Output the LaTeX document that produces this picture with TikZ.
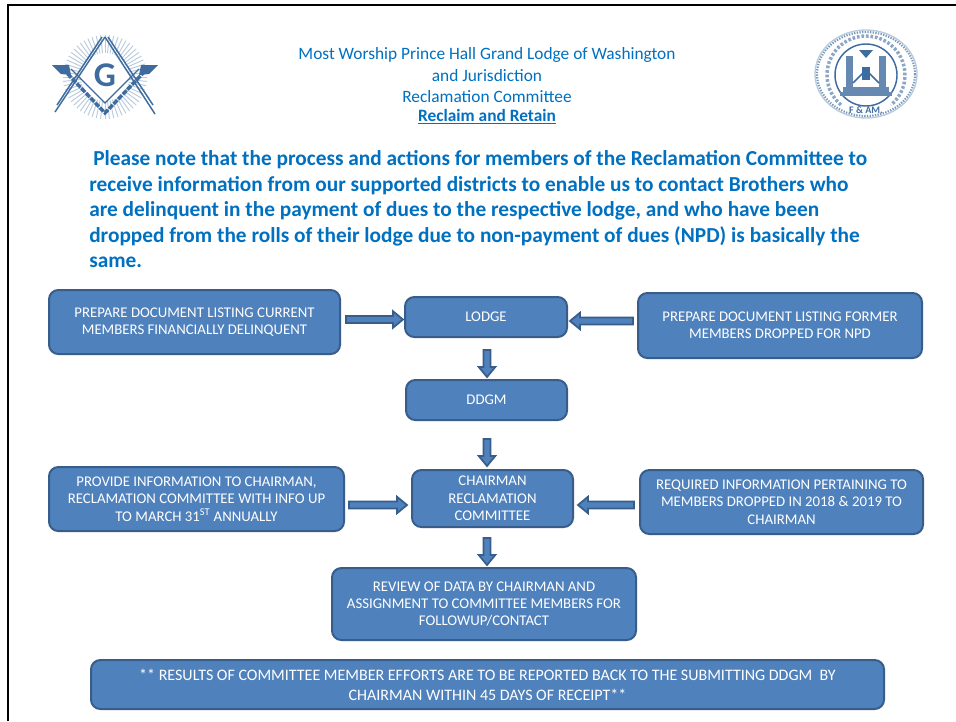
\documentclass[tikz,border=0pt]{standalone}
\usepackage{fontspec}
\setmainfont{Carlito}
\usetikzlibrary{calc}
\definecolor{boxfill}{HTML}{4F81BD}
\definecolor{boxedge}{HTML}{385D8A}
\definecolor{headblue}{HTML}{0070C0}
\definecolor{logoblue}{HTML}{3F6C9E}
\definecolor{logolight}{HTML}{B9CBDD}
\tikzset{
  x=0.75pt,y=-0.75pt,
  flowbox/.style={draw=boxedge,fill=boxfill,line width=1.5pt,rounded corners=7pt,text=white,
    align=center,font=\fontsize{11.1pt}{13pt}\selectfont,inner sep=0pt},
  blockarrow/.style={draw=boxedge,fill=boxfill,line width=1.3pt,line join=miter},
  headline/.style={text=headblue,font=\fontsize{13pt}{15.6pt}\selectfont,align=center,inner sep=0pt},
  notice/.style={text=headblue,font=\fontsize{16pt}{19.15pt}\selectfont\bfseries,align=left,inner sep=0pt,anchor=north west},
  logoline/.style={draw=logoblue,line width=1.1pt},
}
\newcommand{\flowbox}[6]{% name, x0, y0, x1, y1, text
  \node[flowbox,minimum width={(#4-#2)*0.75pt},minimum height={(#5-#3)*0.75pt}] (#1) at ({(#2+#4)/2},{(#3+#5)/2}) {#6};}
\newcommand{\blockarrowdraw}[2]{%
  \coordinate (ba) at #1; \coordinate (bb) at #2;
  \coordinate (bc) at ($(bb)!7.5pt!(ba)$);
  \draw[blockarrow] ($(ba)!2.6pt!90:(bb)$) -- ($(bc)!2.6pt!-90:(ba)$) -- ($(bc)!6.2pt!-90:(ba)$) -- (bb)
    -- ($(bc)!6.2pt!90:(ba)$) -- ($(bc)!2.6pt!90:(ba)$) -- ($(ba)!2.6pt!-90:(bb)$) -- cycle;}
\begin{document}
\begin{tikzpicture}
\useasboundingbox (0,0) rectangle (956,721);
\fill[white] (0,0) rectangle (956,721);
% slide frame
\draw[black,line width=1.6pt] (8,721) -- (8,5) -- (956,5);

% left emblem
\begin{scope}[shift={(105,77)}]
  \foreach \a in {0,6,...,354}
    \draw[logolight,line width=0.7pt] (\a:24) -- (\a:42);
  \draw[logoline] (0,-40) -- (-50,35);
  \draw[logoline] (-3,-40) -- (-48,28);
  \draw[logoline] (0,-40) -- (50,37);
  \draw[logoline] (3,-40) -- (48,28);
  \draw[logoline,line width=2.6pt,dash pattern=on 4pt off 1pt] (-42,-8) -- (0,36) -- (42,-8);
  \draw[logoline,line width=1pt] (-34,-8) -- (0,26) -- (34,-8);
  \fill[logoblue] (-53,-12) -- (-36,-12) -- (-34,-2) -- (-44,-3) -- cycle;
  \fill[logoblue] (53,-12) -- (36,-12) -- (34,-2) -- (44,-3) -- cycle;
  \node[text=logoblue,font=\fontsize{26pt}{26pt}\selectfont\bfseries,inner sep=0pt] (emblemg) at (0,-2) {G};
\end{scope}

% right seal
\begin{scope}[shift={(866,75)}]
  \draw[logolight,line width=1pt] (0,-1) circle[x radius=51,y radius=44];
  \draw[logoblue!70,line width=1.6pt,dash pattern=on 1pt off 1pt] (0,-1) circle[x radius=49,y radius=42];
  \draw[logoblue!60,line width=2.6pt,dash pattern=on 2pt off 1.4pt] (0,0) ++(130:39) arc[start angle=130,end angle=410,radius=39];
  \draw[logoline] (0,0) circle[radius=31];
  \fill[logoblue!80] (-20,-19) rectangle (-13,12);
  \fill[logoblue!80] (13,-19) rectangle (20,12);
  \fill[logoblue!80] (-23,12) rectangle (23,17);
  \fill[logoblue!80] (-26,17) rectangle (26,21);
  \draw[logoline] (-13,8) -- (0,-5) -- (13,8);
  \fill[logoblue] (-4,-8) rectangle (4,5);
  \fill[logoblue] (-7,-25) -- (7,-25) -- (0,-17) -- cycle;
  \node[text=logoblue,font=\fontsize{7.5pt}{7.5pt}\selectfont\bfseries,inner sep=0pt] (sealtext) at (0,35) {F \& AM.};
\end{scope}

% heading
\node[headline] (head1) at (487,55) {Most Worship Prince Hall Grand Lodge of Washington};
\node[headline] (head2) at (487,76) {and Jurisdiction};
\node[headline] (head3) at (487,97) {Reclamation Committee};
\node[headline,font=\fontsize{13pt}{15.6pt}\selectfont\bfseries] (head4) at (487,116.5) {\underline{Reclaim and Retain}};

% notice
\node[notice] (note) at (89,150.5) {\hspace{3pt}Please note that the process and actions for members of the Reclamation Committee to\\
receive information from our supported districts to enable us to contact Brothers who\\
are delinquent in the payment of dues to the respective lodge, and who have been\\
dropped from the rolls of their lodge due to non-payment of dues (NPD) is basically the\\
same.};

% boxes
\flowbox{current}{49}{290}{340}{354}{PREPARE DOCUMENT LISTING CURRENT\\MEMBERS FINANCIALLY DELINQUENT}
\flowbox{lodge}{405}{297}{567}{337}{LODGE}
\flowbox{former}{638}{293}{922}{358}{PREPARE DOCUMENT LISTING FORMER\\MEMBERS DROPPED FOR NPD}
\flowbox{ddgm}{406}{380}{567}{420}{DDGM}
\flowbox{provide}{49}{467}{344}{531}{PROVIDE INFORMATION TO CHAIRMAN,\\RECLAMATION COMMITTEE WITH INFO UP\\TO MARCH 31\textsuperscript{ST} ANNUALLY}
\flowbox{chairman}{412}{470}{573}{527}{CHAIRMAN\\RECLAMATION\\COMMITTEE}
\flowbox{required}{640}{470}{923}{534}{REQUIRED INFORMATION PERTAINING TO\\MEMBERS DROPPED IN 2018 \& 2019 TO\\CHAIRMAN}
\flowbox{review}{332}{568}{636}{640}{REVIEW OF DATA BY CHAIRMAN AND\\ASSIGNMENT TO COMMITTEE MEMBERS FOR\\FOLLOWUP/CONTACT}
\node[flowbox,font=\fontsize{12pt}{15pt}\selectfont,minimum width={793*0.75pt},minimum height={49*0.75pt}] (results) at (487.5,684.5) {** RESULTS OF COMMITTEE MEMBER EFFORTS ARE TO BE REPORTED BACK TO THE SUBMITTING DDGM\ \ BY\\CHAIRMAN WITHIN 45 DAYS OF RECEIPT**};

% connectors
\blockarrowdraw{($(current.east)+(5,-2.5)$)}{($(lodge.west)+(-1,2.5)$)}
\blockarrowdraw{($(former.west)+(-4,-4.5)$)}{($(lodge.east)+(2,4)$)}
\blockarrowdraw{($(lodge.south)+(1,12)$)}{($(ddgm.north)+(0.5,-2)$)}
\blockarrowdraw{($(ddgm.south)+(0.5,18)$)}{($(chairman.north)+(-5.5,-3)$)}
\blockarrowdraw{($(provide.east)+(4,6)$)}{($(chairman.west)+(-4,6.5)$)}
\blockarrowdraw{($(required.west)+(-5,3)$)}{($(chairman.east)+(4,6.5)$)}
\blockarrowdraw{($(chairman.south)+(-5.5,10)$)}{($(review.north)+(3,-2)$)}
\end{tikzpicture}
\end{document}
